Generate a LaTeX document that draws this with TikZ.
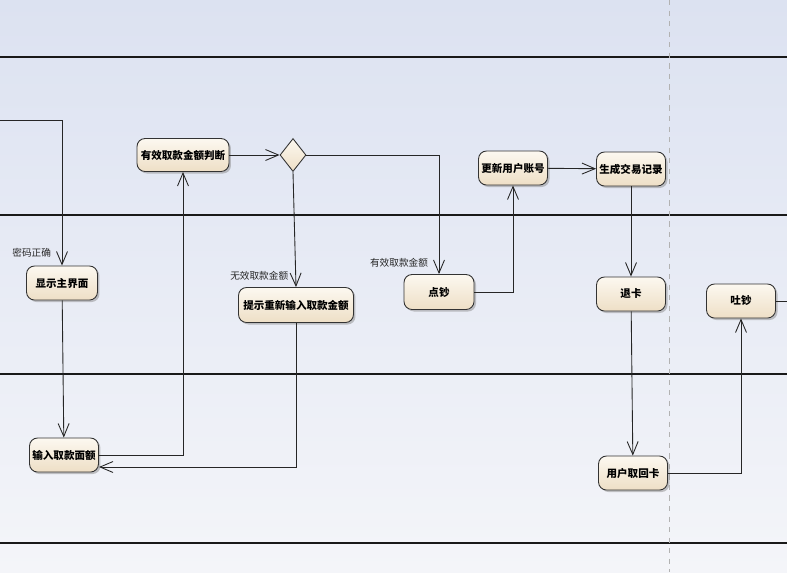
\documentclass[tikz,border=0pt]{standalone}
\usepackage{fontspec}
\setmainfont{Noto Sans CJK SC}
\usetikzlibrary{arrows.meta, shapes.geometric, shadows}
\definecolor{bgtop}{HTML}{DCE2F1}
\definecolor{bgbot}{HTML}{F4F5F9}
\definecolor{acttop}{HTML}{FCF8F0}
\definecolor{actbot}{HTML}{EEDFC6}

\begin{document}
\begin{tikzpicture}[x=0.02cm, y=-0.02cm,
    act/.style={draw=black!80, line width=0.5pt, rounded corners=0.16cm,
      minimum width=1.38cm, minimum height=0.68cm, inner sep=1pt,
      top color=acttop, bottom color=actbot,
      drop shadow={shadow xshift=0.04cm, shadow yshift=-0.04cm, fill=black!45, opacity=0.5},
      font=\fontsize{6}{7}\selectfont\bfseries},
    choice/.style={diamond, draw=black!80, line width=0.5pt, inner sep=0pt,
      minimum width=0.52cm, minimum height=0.66cm,
      top color=acttop, bottom color=actbot},
    flow/.style={draw=black!85, line width=0.5pt, -{Straight Barb[length=0.26cm,width=0.22cm]}},
    guard/.style={font=\fontsize{5.5}{6}\selectfont, text=black!85, inner sep=1pt},
    lane/.style={draw=black!90, line width=0.9pt}]
    \useasboundingbox (0,0) rectangle (787,572);
    % fundo e raias
    \fill[top color=bgtop, bottom color=bgbot] (0,0) rectangle (787,572);
    \draw[lane] (0,57) -- (787,57);
    \draw[lane] (0,215) -- (787,215);
    \draw[lane] (0,374) -- (787,374);
    \draw[lane] (0,543) -- (787,543);
    \draw[black!30, dashed, line width=0.5pt] (669,0) -- (669,572);

    % atividades
    \node[act, minimum width=1.84cm, minimum height=0.66cm] (pan) at (183,155) {有效取款金额判断};
    \node[choice] (dec) at (293,155) {};
    \node[act] (upd) at (513,168) {更新用户账号};
    \node[act] (rec) at (631,169) {生成交易记录};
    \node[act, minimum width=1.42cm] (main) at (62,283) {显示主界面};
    \node[act, minimum width=2.3cm, minimum height=0.7cm] (tip) at (296,305) {提示重新输入取款金额};
    \node[act, minimum width=1.4cm, minimum height=0.7cm] (cnt) at (439,292) {点钞};
    \node[act] (back) at (631,294) {退卡};
    \node[act] (out) at (741,301) {吐钞};
    \node[act] (inp) at (64,455) {输入取款面额};
    \node[act] (take) at (633,473) {用户取回卡};
    \coordinate (from) at (0,120);
    \coordinate (to) at (787,301);

    % fluxos
    \draw[flow] (from) -| (main.north) node[guard, pos=0.955, left=5pt] {密码正确};
    \draw[flow] (main) -- (inp);
    \draw[flow] (inp.east) -| (pan.south);
    \draw[flow] (pan) -- (dec);
    \draw[flow] (dec.south) -- (tip.north) node[guard, pos=0.9, left=3pt] {无效取款金额};
    \draw[flow] (dec.east) -| (cnt.north) node[guard, pos=0.952, left=5pt] {有效取款金额};
    \draw[flow] (tip.south) |- ([yshift=-0.24cm]inp.east);
    \draw[flow] (cnt.east) -| (upd.south);
    \draw[flow] (upd) -- (rec);
    \draw[flow] (rec) -- (back);
    \draw[flow] (back) -- (take);
    \draw[flow] (take.east) -| (out.south);
    \draw[draw=black!85, line width=0.5pt] (out.east) -- (to);
\end{tikzpicture}
\end{document}
